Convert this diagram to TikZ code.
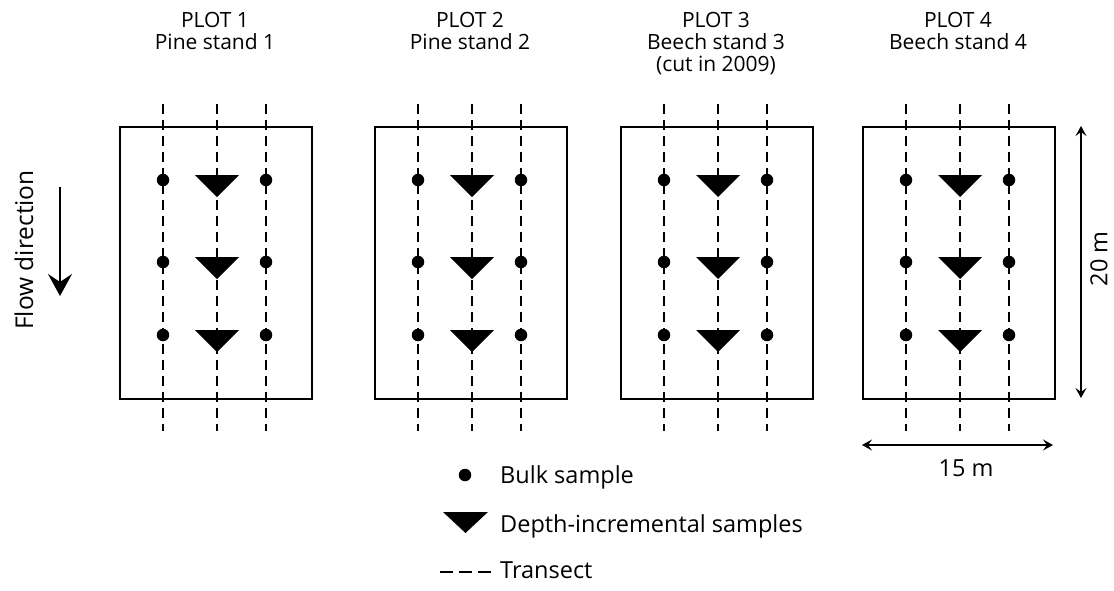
\documentclass[tikz,border=0pt]{standalone}
\usepackage{fontspec}
\setmainfont{Open Sans}
\usetikzlibrary{arrows.meta}
\begin{document}
\begin{tikzpicture}[x=1pt,y=-1pt,
  transect/.style={line width=2pt, dash pattern=on 10pt off 6pt},
  plotbox/.style={draw, line width=1.6pt, inner sep=0pt, minimum width=192pt, minimum height=272pt, anchor=north west},
  bulk/.style={circle, fill=black, inner sep=0pt, minimum size=12.5pt},
  tri/.style={fill=black},
  lbl/.style={font=\fontsize{21}{22}\selectfont, align=center, inner sep=0pt},
  leg/.style={font=\fontsize{23.5}{26}\selectfont, inner sep=0pt, anchor=base west},
  big/.style={font=\fontsize{23.5}{26}\selectfont, inner sep=0pt},
  dim/.style={line width=1.6pt, {Stealth[length=10pt,width=11pt,inset=4pt]}-{Stealth[length=10pt,width=11pt,inset=4pt]}}]
\useasboundingbox (0,0) rectangle (1114,590);

% plots
\foreach \i/\L/\T in {1/119/{PLOT 1\\Pine stand 1},2/374/{PLOT 2\\Pine stand 2},3/620/{PLOT 3\\Beech stand 3\\(cut in 2009)},4/862/{PLOT 4\\Beech stand 4}}{
  \node[plotbox] (box\i) at (\L,126) {};
  \node[lbl, anchor=north] (title\i) at (\L+96,12) {\T};
  \foreach \k/\o in {a/44,b/98,c/147}{
    \coordinate (t\i\k top) at (\L+\o,104);
    \coordinate (t\i\k bot) at (\L+\o,431);
    \draw[transect] (t\i\k top) -- (t\i\k bot);
  }
  \foreach \r/\y in {1/180,2/262,3/335}{
    \node[bulk] (d\i a\r) at (\L+44,\y) {};
    \node[bulk] (d\i c\r) at (\L+147,\y) {};
    \coordinate (tr\i\r) at (\L+98,\y+17);
    \fill[tri] (tr\i\r) -- ++(-22,-22) -- ++(44,0) -- cycle;
  }
}

% flow direction
\node[font=\fontsize{24.5}{26}\selectfont, rotate=90, inner sep=0pt] (flow) at (24,250) {Flow direction};
\coordinate (fa) at (60,187);
\coordinate (fb) at (60,296);
\draw[line width=2.2pt, -{Stealth[length=22pt,width=24pt,inset=8pt]}] (fa) -- (fb);

% dimensions
\coordinate (v1) at (1081,126);
\coordinate (v2) at (1081,398);
\draw[dim] (v1) -- (v2);
\node[big, rotate=90] (h20) at (1099,259) {20 m};
\coordinate (h1) at (862,445);
\coordinate (h2) at (1053,445);
\draw[dim] (h1) -- (h2);
\node[big] (w15) at (966,468) {15 m};

% legend
\node[bulk] (lgdot) at (465,475) {};
\node[leg] (lgbulk) at (500,483) {Bulk sample};
\coordinate (lgtri) at (465.5,533);
\fill[tri] (lgtri) -- ++(-22.5,-21) -- ++(45,0) -- cycle;
\node[leg] (lgdepth) at (500,532) {Depth-incremental samples};
\coordinate (lgl1) at (440,572);
\coordinate (lgl2) at (493,572);
\draw[line width=1.6pt, dash pattern=on 13pt off 6pt] (lgl1) -- (lgl2);
\node[leg] (lgtrans) at (500,578) {Transect};
\end{tikzpicture}
\end{document}
